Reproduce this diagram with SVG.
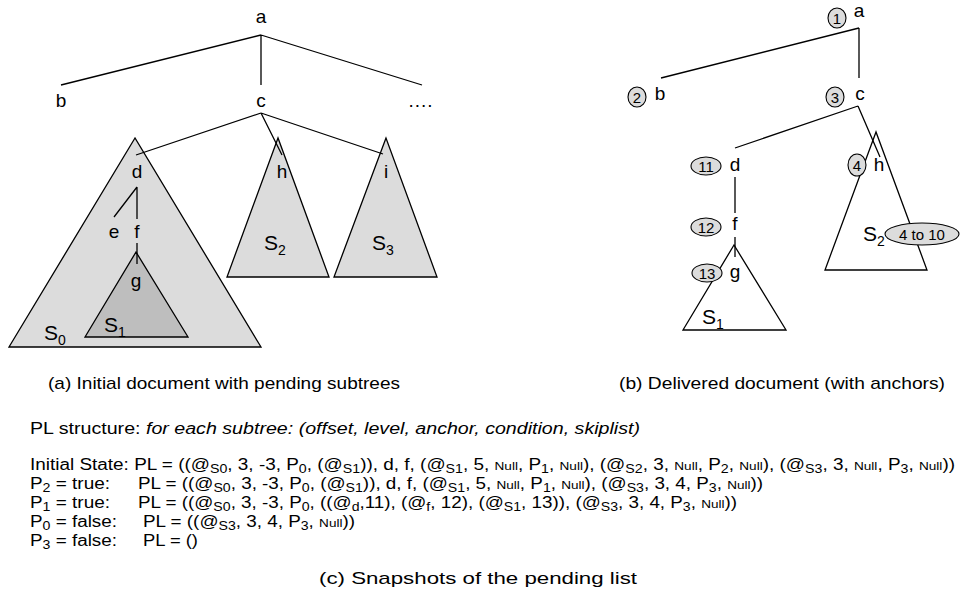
<svg xmlns="http://www.w3.org/2000/svg" width="960" height="598" viewBox="0 0 960 598">
<style>
text{font-family:"Liberation Sans",Arial,sans-serif;fill:#000}
.lbl{font-size:19px;text-anchor:middle}
.sl{font-size:21px}
.sub{font-size:14px}
.num{font-size:15px;text-anchor:middle}
.cap{font-size:17px}
.pl{font-size:16px}
.s{font-size:12px}
.n{font-size:11.5px}
.ln{stroke:#000;stroke-width:1.3;fill:none}
.g1{fill:#dcdcdc;stroke:#000;stroke-width:1.3}
.g2{fill:#bebebe;stroke:#000;stroke-width:1.3}
.w{fill:#fff;stroke:#000;stroke-width:1.3}
.ov{fill:#dcdcdc;stroke:#000;stroke-width:1.1}
</style>
<rect width="960" height="598" fill="#fff"/>
<!-- LEFT PANEL -->
<g id="S0"><polygon class="g1" points="135,138 9,347 261,347"/><text class="sl" x="44" y="340">S<tspan class="sub" baseline-shift="-5">0</tspan></text></g>
<g id="S1"><polygon class="g2" points="136,252 85,337 188,337"/><text class="sl" x="104" y="332">S<tspan class="sub" baseline-shift="-5">1</tspan></text></g>
<g id="S2"><polygon class="g1" points="278,138 227,277 329,277"/><text class="sl" x="264" y="250">S<tspan class="sub" baseline-shift="-5">2</tspan></text></g>
<g id="S3"><polygon class="g1" points="386,138 334,277 437,277"/><text class="sl" x="372" y="250">S<tspan class="sub" baseline-shift="-5">3</tspan></text></g>
<g id="connectors-left">
<path class="ln" d="M261,35L61,85M261,35V85M261,35L422,85"/>
<path class="ln" d="M261,113L136,155M261,113L282,155M261,113L383,154"/>
<path class="ln" d="M137,187L114,217M137,187V219M137,243V264"/>
</g>
<g id="a"><text class="lbl" x="261" y="23">a</text></g>
<g id="b"><text class="lbl" x="61" y="107">b</text></g>
<g id="c"><text class="lbl" x="261" y="107">c</text></g>
<g id="more"><text class="lbl" x="421" y="107" letter-spacing="1">....</text></g>
<g id="d"><text class="lbl" x="137" y="178">d</text></g>
<g id="e"><text class="lbl" x="114" y="238">e</text></g>
<g id="f"><text class="lbl" x="137" y="238">f</text></g>
<g id="g"><text class="lbl" x="136" y="287">g</text></g>
<g id="h"><text class="lbl" x="282" y="178">h</text></g>
<g id="i"><text class="lbl" x="386" y="178">i</text></g>
<text class="cap" x="48" y="389" textLength="352" lengthAdjust="spacingAndGlyphs">(a) Initial document with pending subtrees</text>

<!-- RIGHT PANEL -->
<g id="rS2"><polygon class="w" points="876,132 825,270 927,270"/><text class="sl" x="863" y="241">S<tspan class="sub" baseline-shift="-5">2</tspan></text></g>
<g id="rS1"><polygon class="w" points="734,245 683,330 786,330"/><text class="sl" x="702" y="324">S<tspan class="sub" baseline-shift="-5">1</tspan></text></g>
<g id="connectors-right">
<path class="ln" d="M859,28L661,78M859,28V78"/>
<path class="ln" d="M858,106L735,148M858,106L880,157"/>
<path class="ln" d="M735,177V213M735,237V257"/>
</g>
<g id="ra"><ellipse class="ov" cx="837" cy="18" rx="9" ry="10"/><text class="num" x="837" y="23.5">1</text><text class="lbl" x="859" y="17">a</text></g>
<g id="rb"><ellipse class="ov" cx="637" cy="97" rx="9" ry="10"/><text class="num" x="637" y="102.5">2</text><text class="lbl" x="660" y="100">b</text></g>
<g id="rc"><ellipse class="ov" cx="835" cy="97" rx="9" ry="10"/><text class="num" x="835" y="102.5">3</text><text class="lbl" x="860" y="100">c</text></g>
<g id="rh"><ellipse class="ov" cx="857" cy="165" rx="9" ry="11"/><text class="num" x="857" y="170.5">4</text><text class="lbl" x="879" y="171">h</text></g>
<g id="rd"><ellipse class="ov" cx="706" cy="166" rx="15" ry="9"/><text class="num" x="706" y="171.5">11</text><text class="lbl" x="735" y="171">d</text></g>
<g id="rf"><ellipse class="ov" cx="706" cy="227" rx="15" ry="9"/><text class="num" x="706" y="232.5">12</text><text class="lbl" x="735" y="230">f</text></g>
<g id="rg"><ellipse class="ov" cx="707" cy="273" rx="15" ry="9"/><text class="num" x="707" y="278.5">13</text><text class="lbl" x="735" y="278">g</text></g>
<g id="rS2anchor"><ellipse class="ov" cx="922" cy="234" rx="37" ry="11"/><text class="num" font-size="16" x="922" y="239.5">4 to 10</text></g>
<text class="cap" x="619" y="389" textLength="326" lengthAdjust="spacingAndGlyphs">(b) Delivered document (with anchors)</text>

<!-- PL SECTION -->
<text class="pl" x="30" y="434" textLength="610" lengthAdjust="spacingAndGlyphs">PL structure: <tspan font-style="italic">for each subtree: (offset, level, anchor, condition, skiplist)</tspan></text>
<text class="pl" x="30" y="470" textLength="925" lengthAdjust="spacingAndGlyphs">Initial State: PL = ((@<tspan class="s" baseline-shift="-3">S0</tspan>, 3, -3, P<tspan class="s" baseline-shift="-3">0</tspan>, (@<tspan class="s" baseline-shift="-3">S1</tspan>)), d, f, (@<tspan class="s" baseline-shift="-3">S1</tspan>, 5, <tspan class="n">Null</tspan>, P<tspan class="s" baseline-shift="-3">1</tspan>, <tspan class="n">Null</tspan>), (@<tspan class="s" baseline-shift="-3">S2</tspan>, 3, <tspan class="n">Null</tspan>, P<tspan class="s" baseline-shift="-3">2</tspan>, <tspan class="n">Null</tspan>), (@<tspan class="s" baseline-shift="-3">S3</tspan>, 3, <tspan class="n">Null</tspan>, P<tspan class="s" baseline-shift="-3">3</tspan>, <tspan class="n">Null</tspan>))</text>
<text class="pl" x="30" y="489" textLength="80" lengthAdjust="spacingAndGlyphs">P<tspan class="s" baseline-shift="-3">2</tspan> = true:</text>
<text class="pl" x="138" y="489" textLength="625" lengthAdjust="spacingAndGlyphs">PL = ((@<tspan class="s" baseline-shift="-3">S0</tspan>, 3, -3, P<tspan class="s" baseline-shift="-3">0</tspan>, (@<tspan class="s" baseline-shift="-3">S1</tspan>)), d, f, (@<tspan class="s" baseline-shift="-3">S1</tspan>, 5, <tspan class="n">Null</tspan>, P<tspan class="s" baseline-shift="-3">1</tspan>, <tspan class="n">Null</tspan>), (@<tspan class="s" baseline-shift="-3">S3</tspan>, 3, 4, P<tspan class="s" baseline-shift="-3">3</tspan>, <tspan class="n">Null</tspan>))</text>
<text class="pl" x="30" y="508" textLength="80" lengthAdjust="spacingAndGlyphs">P<tspan class="s" baseline-shift="-3">1</tspan> = true:</text>
<text class="pl" x="138" y="508" textLength="599" lengthAdjust="spacingAndGlyphs">PL = ((@<tspan class="s" baseline-shift="-3">S0</tspan>, 3, -3, P<tspan class="s" baseline-shift="-3">0</tspan>, ((@<tspan class="s" baseline-shift="-3">d</tspan>,11), (@<tspan class="s" baseline-shift="-3">f</tspan>, 12), (@<tspan class="s" baseline-shift="-3">S1</tspan>, 13)), (@<tspan class="s" baseline-shift="-3">S3</tspan>, 3, 4, P<tspan class="s" baseline-shift="-3">3</tspan>, <tspan class="n">Null</tspan>))</text>
<text class="pl" x="30" y="527" textLength="87" lengthAdjust="spacingAndGlyphs">P<tspan class="s" baseline-shift="-3">0</tspan> = false:</text>
<text class="pl" x="143" y="527" textLength="212" lengthAdjust="spacingAndGlyphs">PL = ((@<tspan class="s" baseline-shift="-3">S3</tspan>, 3, 4, P<tspan class="s" baseline-shift="-3">3</tspan>, <tspan class="n">Null</tspan>))</text>
<text class="pl" x="30" y="546" textLength="87" lengthAdjust="spacingAndGlyphs">P<tspan class="s" baseline-shift="-3">3</tspan> = false:</text>
<text class="pl" x="143" y="546" textLength="55" lengthAdjust="spacingAndGlyphs">PL = ()</text>
<text class="cap" x="319" y="584" textLength="318" lengthAdjust="spacingAndGlyphs">(c) Snapshots of the pending list</text>
</svg>
